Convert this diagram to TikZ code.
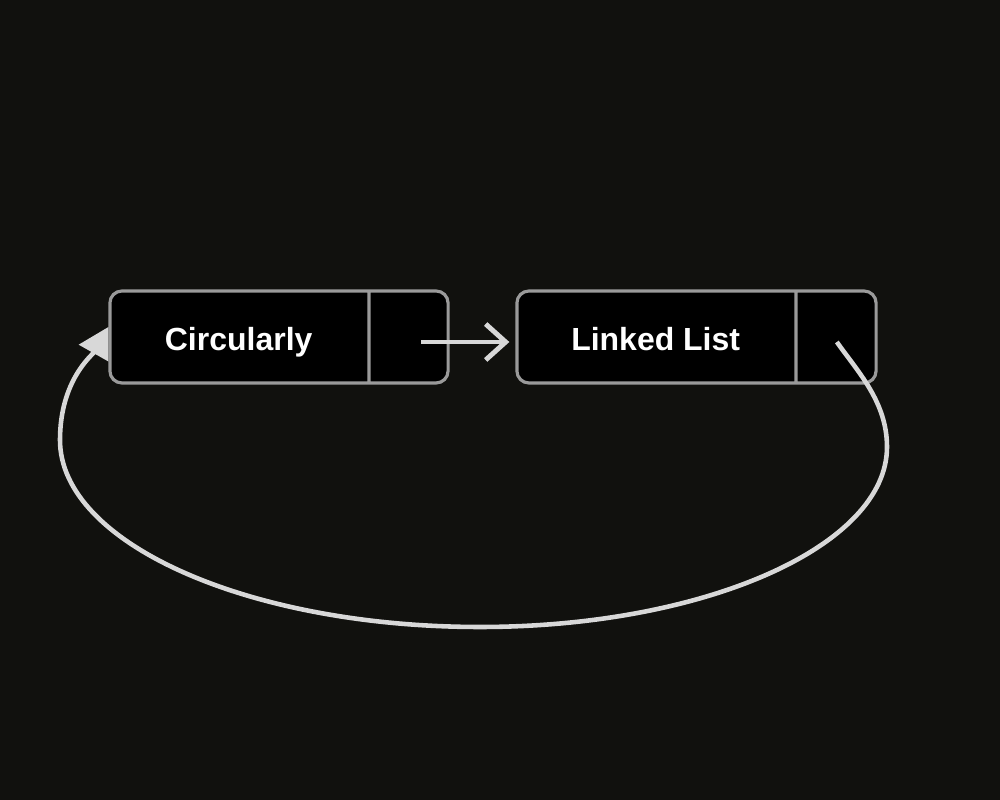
\documentclass[tikz,border=0pt]{standalone}
\usepackage{fontspec}
\setsansfont{Liberation Sans}
\usepackage{tikz}
\usetikzlibrary{arrows.meta,positioning,calc,shapes.multipart}

\definecolor{bgdark}{HTML}{11110E}
\definecolor{cellgrey}{HTML}{9A9A9A}
\definecolor{linkgrey}{HTML}{D8D8D8}

\newcommand{\cellstrut}{\rule[-0.64cm]{0pt}{1.84cm}}

\tikzset{
  listnode/.style={rectangle split, rectangle split horizontal, rectangle split parts=2,
    draw=cellgrey, fill=black, line width=1.8pt, rounded corners=0.24cm,
    inner xsep=0pt, inner ysep=0pt, text=white, font=\sffamily\bfseries\fontsize{18.2}{22}\selectfont},
  link/.style={draw=linkgrey, line width=2.6pt}
}

\begin{document}
\begin{tikzpicture}
  \fill [bgdark] (0,0) rectangle (20,16);
  \useasboundingbox (0,0) rectangle (20,16);

  \node (l1) [listnode] at (5.58,9.26)
    {\makebox[5.15cm]{\cellstrut Circularly}\nodepart{two}\makebox[1.55cm]{\cellstrut}};
  \node (l2) [listnode] at (13.93,9.26)
    {\makebox[5.55cm]{\cellstrut Linked List}\nodepart{two}\makebox[1.57cm]{\cellstrut}};

  \coordinate (p1) at ($(l1.one split)!0.65!(l1.east) + (0,-0.1)$);
  \coordinate (p2) at ($(l2.one split)!0.5!(l2.east) + (0,-0.1)$);

  % next pointer
  \draw [link, -{Straight Barb[length=0.4cm,width=0.72cm,line width=2.8pt]}, shorten >=0.12cm]
    (p1) -- (p1 -| l2.west);

  % back to the head
  \draw [link, -{Triangle[length=0.6cm,width=0.66cm]}]
    (p2) .. controls (17.16,8.56) and (17.74,7.96) .. (17.74,7.06)
    .. controls (17.74,5.08) and (14.1,3.46) .. (9.6,3.46)
    .. controls (4.96,3.46) and (1.2,5.14) .. (1.2,7.2)
    .. controls (1.2,8.4) and (1.85,8.9) .. ([yshift=0.2cm]l1.west);
\end{tikzpicture}
\end{document}
